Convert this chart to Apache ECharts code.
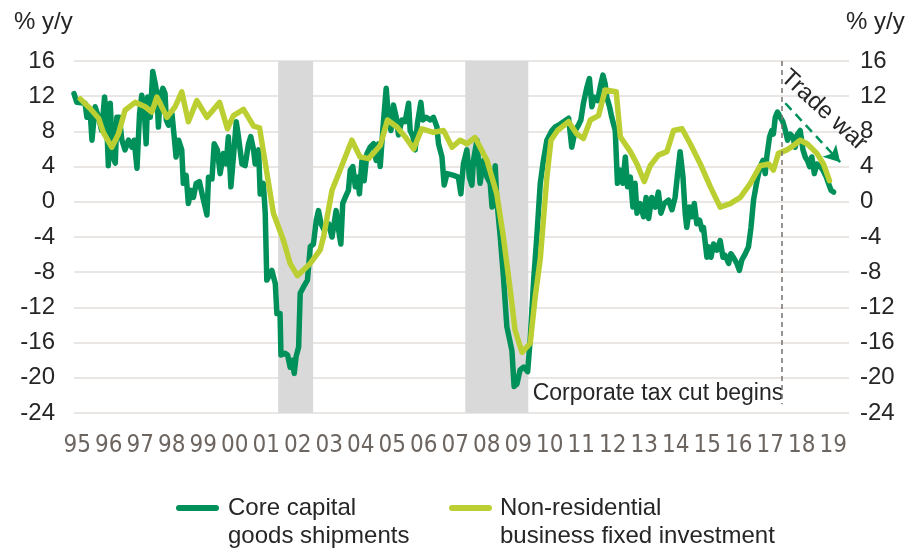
<!DOCTYPE html>
<html>
<head>
	<meta charset="utf-8">
	<title>capex</title>
	<style>
		body { margin: 0; padding: 0; background: #fff; }
		#main { width: 912px; height: 548px; }
	</style>
</head>
<body>
	<div id="main"></div>
	<script src="https://cdn.jsdelivr.net/npm/echarts@6/dist/echarts.min.js"></script>
	<script type="text/javascript">
		// tick labels (years, shown as two digits)
		var yearTicks = [1995, 1996, 1997, 1998, 1999, 2000, 2001, 2002, 2003, 2004, 2005, 2006,
			2007, 2008, 2009, 2010, 2011, 2012, 2013, 2014, 2015, 2016, 2017, 2018, 2019];

		// core capital goods shipments, % y/y  [decimal year, value]
		var coreShipments = [
			[1994.90, 12.3], [1994.99, 11.3], [1995.25, 11.2], [1995.31, 9.6], [1995.41, 10.4], [1995.47, 7.0],
			[1995.57, 10.8], [1995.68, 9.6], [1995.78, 8.1], [1995.87, 11.9], [1995.94, 8.9], [1995.99, 4.1],
			[1996.05, 11.2], [1996.13, 5.1], [1996.21, 4.4], [1996.26, 9.6], [1996.34, 9.6], [1996.42, 7.0],
			[1996.52, 5.9], [1996.63, 7.0], [1996.74, 6.2], [1996.81, 7.0], [1996.90, 3.8], [1996.98, 10.0],
			[1997.05, 12.1], [1997.13, 10.4], [1997.19, 6.6], [1997.24, 11.9], [1997.32, 9.6], [1997.40, 14.8],
			[1997.48, 13.4], [1997.53, 12.3], [1997.58, 8.5], [1997.63, 11.9], [1997.72, 12.9], [1997.79, 12.3],
			[1997.83, 9.3], [1997.90, 8.7], [1998.01, 10.0], [1998.08, 7.4], [1998.14, 5.1], [1998.22, 7.0],
			[1998.32, 5.9], [1998.37, 2.1], [1998.46, 3.0], [1998.53, -0.2], [1998.61, 1.3], [1998.69, 0.5],
			[1998.78, 2.1], [1998.88, 2.3], [1998.99, 0.5], [1999.12, -1.5], [1999.17, 2.8], [1999.28, 2.6],
			[1999.35, 6.6], [1999.45, 5.9], [1999.54, 3.2], [1999.64, 5.5], [1999.73, 4.3], [1999.80, 7.4],
			[1999.88, 1.7], [1999.96, 5.1], [2000.05, 9.1], [2000.12, 7.4], [2000.23, 4.3], [2000.33, 4.1],
			[2000.44, 6.6], [2000.51, 7.4], [2000.60, 5.9], [2000.65, 4.3], [2000.76, 5.9], [2000.81, 0.9],
			[2000.91, 2.1], [2000.97, -1.3], [2001.02, -8.9], [2001.18, -7.8], [2001.29, -9.3], [2001.34, -12.7],
			[2001.44, -12.7], [2001.47, -17.4], [2001.60, -17.2], [2001.68, -17.4], [2001.76, -18.8], [2001.82, -18.0],
			[2001.89, -19.5], [2001.95, -17.6], [2002.03, -16.5], [2002.08, -10.4], [2002.18, -9.7], [2002.31, -8.9],
			[2002.40, -5.1], [2002.50, -4.8], [2002.59, -2.1], [2002.66, -1.0], [2002.74, -2.5], [2002.84, -3.2],
			[2002.98, -2.5], [2003.09, -4.0], [2003.22, -1.0], [2003.30, -3.2], [2003.37, -4.8], [2003.43, -0.2],
			[2003.51, 0.5], [2003.61, 1.3], [2003.67, 3.6], [2003.75, 4.0], [2003.83, 1.7], [2003.90, 2.8],
			[2003.96, 0.9], [2004.04, 4.7], [2004.11, 2.4], [2004.20, 5.5], [2004.30, 6.2], [2004.41, 6.6],
			[2004.49, 4.7], [2004.57, 6.6], [2004.62, 4.0], [2004.70, 8.1], [2004.81, 12.9], [2004.88, 9.6],
			[2004.96, 8.1], [2005.04, 11.0], [2005.13, 9.6], [2005.20, 7.6], [2005.31, 9.3], [2005.41, 9.1],
			[2005.52, 11.2], [2005.57, 8.1], [2005.66, 7.4], [2005.73, 5.9], [2005.80, 8.9], [2005.91, 11.3],
			[2005.97, 9.3], [2006.08, 9.6], [2006.21, 9.3], [2006.31, 9.6], [2006.42, 8.5], [2006.47, 6.6],
			[2006.58, 5.1], [2006.65, 1.9], [2006.74, 3.2], [2006.95, 3.0], [2007.10, 2.8], [2007.18, 0.9],
			[2007.26, 4.3], [2007.37, 5.9], [2007.45, 2.8], [2007.53, 1.9], [2007.58, 4.7], [2007.69, 7.0],
			[2007.79, 2.1], [2007.90, 4.7], [2008.01, 2.8], [2008.11, 2.1], [2008.17, -0.6], [2008.27, 4.1],
			[2008.32, 0.2], [2008.43, -4.0], [2008.53, -8.5], [2008.64, -14.2], [2008.80, -16.9], [2008.87, -21.0],
			[2008.96, -20.7], [2009.06, -19.1], [2009.17, -18.8], [2009.30, -19.3], [2009.38, -15.7], [2009.49, -8.9],
			[2009.59, -4.0], [2009.70, 2.1], [2009.80, 4.7], [2009.91, 7.0], [2010.07, 8.1], [2010.17, 8.5],
			[2010.28, 8.7], [2010.44, 9.1], [2010.60, 9.5], [2010.70, 6.2], [2010.81, 8.1], [2010.91, 8.7],
			[2010.99, 9.3], [2011.07, 11.2], [2011.18, 13.0], [2011.26, 14.0], [2011.34, 10.8], [2011.41, 11.9],
			[2011.52, 11.5], [2011.60, 13.0], [2011.69, 14.4], [2011.76, 13.4], [2011.81, 11.9], [2011.90, 10.8],
			[2011.97, 9.6], [2012.08, 8.1], [2012.15, 2.1], [2012.24, 3.6], [2012.32, 2.1], [2012.40, 5.1],
			[2012.47, 1.7], [2012.56, 2.8], [2012.64, -0.6], [2012.71, 2.1], [2012.77, -1.3], [2012.87, -0.2],
			[2012.98, -1.7], [2013.06, 0.5], [2013.14, -1.9], [2013.24, 0.5], [2013.35, -0.6], [2013.45, 1.1],
			[2013.53, -1.3], [2013.63, -0.2], [2013.77, 0.2], [2013.88, -0.9], [2013.98, 0.5], [2014.06, 3.2],
			[2014.14, 5.7], [2014.23, 2.8], [2014.30, -1.3], [2014.35, -2.9], [2014.44, -0.6], [2014.51, -1.7],
			[2014.59, -0.2], [2014.67, -2.5], [2014.76, -2.1], [2014.83, -3.2], [2014.88, -2.9], [2014.99, -6.3],
			[2015.04, -5.1], [2015.12, -6.3], [2015.20, -4.8], [2015.31, -5.5], [2015.41, -4.4], [2015.50, -6.3],
			[2015.57, -6.1], [2015.68, -7.0], [2015.75, -5.9], [2015.83, -6.3], [2015.94, -7.0], [2016.02, -7.8],
			[2016.10, -6.6], [2016.21, -5.9], [2016.31, -5.1], [2016.39, -2.9], [2016.47, 0.2], [2016.58, 2.4],
			[2016.68, 4.0], [2016.77, 4.7], [2016.84, 3.2], [2016.89, 5.1], [2016.98, 7.4], [2017.05, 8.1],
			[2017.10, 7.7], [2017.16, 9.6], [2017.23, 10.2], [2017.32, 9.6], [2017.40, 9.1], [2017.48, 8.1],
			[2017.55, 7.0], [2017.63, 7.7], [2017.72, 7.4], [2017.79, 6.2], [2017.87, 7.7], [2017.95, 8.1],
			[2018.04, 5.9], [2018.11, 5.1], [2018.18, 4.7], [2018.25, 4.0], [2018.32, 5.1], [2018.40, 3.2],
			[2018.48, 4.3], [2018.59, 4.0], [2018.67, 3.6], [2018.78, 2.8], [2018.85, 2.1], [2018.93, 1.3],
			[2019.01, 1.1]
		];

		// non-residential business fixed investment, % y/y
		var nonResInvestment = [
			[1995.10, 11.7], [1995.41, 10.6], [1995.68, 9.5], [1995.83, 7.9], [1996.10, 6.2], [1996.31, 7.7],
			[1996.52, 10.4], [1996.84, 11.3], [1997.16, 10.8], [1997.37, 10.2], [1997.53, 11.9], [1997.85, 9.6],
			[1998.11, 10.8], [1998.32, 12.5], [1998.53, 9.1], [1998.80, 11.5], [1999.12, 9.6], [1999.52, 11.3],
			[1999.77, 8.3], [1999.96, 9.8], [2000.28, 10.5], [2000.60, 8.6], [2000.79, 8.4], [2001.23, -1.3],
			[2001.55, -4.4], [2001.76, -7.0], [2001.99, -8.4], [2002.40, -7.0], [2002.71, -5.5], [2002.82, -4.0],
			[2003.09, 1.3], [2003.30, 3.2], [2003.72, 7.0], [2003.98, 5.1], [2004.25, 4.9], [2004.62, 6.4],
			[2004.85, 9.3], [2005.15, 8.5], [2005.41, 7.4], [2005.68, 6.0], [2005.94, 8.3], [2006.31, 7.9],
			[2006.63, 8.1], [2006.90, 6.2], [2007.16, 7.0], [2007.37, 6.6], [2007.63, 7.3], [2008.01, 4.7],
			[2008.32, 0.9], [2008.53, -4.0], [2008.75, -10.1], [2008.90, -14.6], [2009.12, -17.1], [2009.38, -16.1],
			[2009.54, -10.8], [2009.70, -6.5], [2009.91, 2.8], [2010.04, 7.0], [2010.25, 8.1], [2010.60, 9.1],
			[2010.86, 7.7], [2011.07, 7.2], [2011.29, 9.3], [2011.55, 9.8], [2011.76, 12.7], [2012.11, 12.5],
			[2012.24, 7.4], [2012.56, 5.7], [2012.77, 4.3], [2013.00, 2.3], [2013.19, 4.1], [2013.45, 5.3],
			[2013.72, 5.7], [2013.93, 8.1], [2014.20, 8.3], [2014.46, 6.6], [2014.78, 4.3], [2015.10, 1.7],
			[2015.41, -0.6], [2015.73, -0.2], [2016.05, 0.5], [2016.37, 2.1], [2016.68, 4.1], [2016.95, 4.3],
			[2017.10, 3.6], [2017.26, 5.5], [2017.53, 5.9], [2017.74, 6.4], [2017.95, 7.0], [2018.17, 6.6],
			[2018.48, 5.5], [2018.69, 4.3], [2018.88, 2.4]
		];

		// shaded recessions [start, end]
		var recessions = [[2001.38, 2002.49], [2007.32, 2009.32]];
		var taxCutDate = 2017.38;
		var tradeWarArrow = [[2017.48, 11.2], [2019.22, 4.5]];

		var green = '#00915a';
		var lime = '#bccf32';
		var textColor = '#262626';
		var font = 'Liberation Sans, Arial, sans-serif';

		var myChart = echarts.init(document.getElementById('main'));

		var yAxisBase = {
			type: 'value',
			min: -24,
			max: 16,
			interval: 4,
			axisLine: { show: false },
			axisTick: { show: false },
			axisLabel: { fontSize: 24, fontFamily: font, color: textColor }
		};

		myChart.setOption({
			animation: false,
			grid: { left: 74, right: 63, top: 61, bottom: 135 },
			xAxis: {
				type: 'value',
				min: 1994.9,
				max: 2019.5,
				axisLine: { show: false },
				axisTick: { show: false },
				splitLine: { show: false },
				axisLabel: {
					customValues: yearTicks,
					formatter: function (v) { return String(v).slice(2); },
					fontSize: 24,
					fontFamily: 'Liberation Sans Narrow, Arial Narrow, DejaVu Sans Condensed, sans-serif',
					color: '#6d6560',
					margin: 21
				}
			},
			yAxis: [
				echarts.util.merge({
					position: 'left',
					splitLine: { lineStyle: { color: '#e2dedb', width: 1.5 } },
					axisLabel: { margin: 19 }
				}, yAxisBase, true),
				echarts.util.merge({
					position: 'right',
					splitLine: { show: false },
					axisLabel: { margin: 11 }
				}, yAxisBase, true)
			],
			series: [
				{
					name: 'Core capital goods shipments',
					type: 'line',
					data: coreShipments,
					showSymbol: false,
					lineStyle: { color: green, width: 5.5, join: 'round', cap: 'round' },
					markArea: {
						silent: true,
						itemStyle: { color: '#d9d9d9' },
						data: recessions.map(function (r) { return [{ xAxis: r[0] }, { xAxis: r[1] }]; })
					},
					markLine: {
						silent: true,
						symbol: ['none', 'arrow'],
						symbolSize: [14, 16],
						label: { show: false },
						lineStyle: { color: green, width: 2.5, type: [9, 6] },
						data: [[{ coord: tradeWarArrow[0] }, { coord: tradeWarArrow[1] }]]
					}
				},
				{
					name: 'Non-residential business fixed investment',
					type: 'line',
					data: nonResInvestment,
					showSymbol: false,
					lineStyle: { color: lime, width: 5.5, join: 'round', cap: 'round' },
					markLine: {
						silent: true,
						symbol: 'none',
						label: { show: false },
						lineStyle: { color: '#7a726e', width: 1.5, type: [5, 4] },
						data: [[{ coord: [taxCutDate, 16] }, { coord: [taxCutDate, -23] }]]
					}
				}
			]
		});

		// annotations placed through the axes
		var taxPos = myChart.convertToPixel({ gridIndex: 0 }, [taxCutDate, -21.8]);
		var tradePos = myChart.convertToPixel({ gridIndex: 0 }, [2018.7, 10.4]);

		myChart.setOption({
			graphic: [
				{ type: 'text', left: 14, top: 10, style: { text: '% y/y', font: '24px ' + font, fill: textColor } },
				{ type: 'text', left: 846, top: 10, style: { text: '% y/y', font: '24px ' + font, fill: textColor } },
				{
					type: 'text', x: taxPos[0] + 1, y: taxPos[1],
					style: { text: 'Corporate tax cut begins', font: '23px ' + font, fill: textColor, align: 'right', verticalAlign: 'middle' }
				},
				{
					type: 'text', x: tradePos[0], y: tradePos[1], rotation: -0.74,
					style: { text: 'Trade war', font: '24px ' + font, fill: textColor, align: 'center', verticalAlign: 'middle' }
				},
				// legend
				{ type: 'rect', shape: { x: 176, y: 505, width: 43, height: 6, r: 3 }, style: { fill: green } },
				{
					type: 'text', x: 228, y: 494,
					style: { text: 'Core capital\ngoods shipments', font: '24px ' + font, lineHeight: 28, fill: textColor, verticalAlign: 'top' }
				},
				{ type: 'rect', shape: { x: 449, y: 505, width: 43, height: 6, r: 3 }, style: { fill: lime } },
				{
					type: 'text', x: 500, y: 494,
					style: { text: 'Non-residential\nbusiness fixed investment', font: '24px ' + font, lineHeight: 28, fill: textColor, verticalAlign: 'top' }
				}
			]
		});

		window.addEventListener('resize', function () { myChart.resize(); });
	</script>
</body>
</html>
